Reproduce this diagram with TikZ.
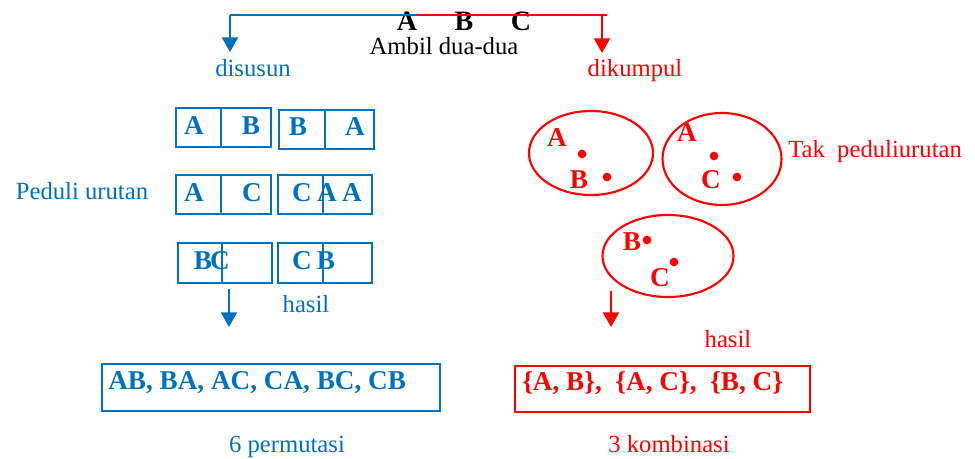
\documentclass[tikz,border=0pt]{standalone}
\usepackage{fontspec}
\setmainfont{Liberation Serif}
\usetikzlibrary{arrows.meta,shapes.geometric}
\definecolor{myblue}{HTML}{0070C0}
\definecolor{myred}{HTML}{FF0000}
\tikzset{
  txt/.style={inner sep=0pt,anchor=base,font=\fontsize{18.5}{21}\selectfont},
  bigl/.style={inner sep=0pt,anchor=base,font=\fontsize{20.4}{24}\selectfont\bfseries},
  topl/.style={inner sep=0pt,anchor=base,font=\fontsize{21}{25}\selectfont\bfseries},
  cell/.style={draw=myblue,line width=1.7pt,rectangle,inner sep=0pt},
  redell/.style={draw=myred,line width=1.6pt,ellipse,inner sep=0pt},
  dotr/.style={circle,fill=myred,inner sep=0pt,minimum size=6.5pt},
  arr/.style={line width=1.6pt,-{Triangle[width=12pt,length=11pt]}},
  resbox/.style={rectangle,line width=1.7pt,inner sep=0pt},
}
\begin{document}
\begin{tikzpicture}[x=0.75pt,y=-0.75pt]
\useasboundingbox (0,0) rectangle (975,459);

% top
\node[topl] (tA) at (407,31) {A};
\node[topl] (tB) at (464,31) {B};
\node[topl] (tC) at (521,31) {C};
\node[txt] (ambil) at (444,55) {Ambil dua-dua};
\coordinate (tmid) at (417,15);
\coordinate (tleft) at (230,15);
\coordinate (tright) at (607,15);
\coordinate (tdrop) at (602,15);
\coordinate (ltip) at (230,52);
\coordinate (rtip) at (602,53);
\draw[myblue,line width=1.6pt] (tmid) -- (tleft);
\draw[myblue,arr] (tleft) -- (ltip);
\draw[myred,line width=1.6pt] (tmid) -- (tright);
\draw[myred,arr] (tdrop) -- (rtip);
\node[txt,text=myblue] (disusun) at (253,77) {disusun};
\node[txt,text=myred] (dikumpul) at (635,77) {dikumpul};

% blue boxes
\foreach \n/\xa/\xd/\xb/\ya/\yb in {r1a/176/221/271/108/147, r1b/279/325/374/110/149, r2a/176/221/271/175/214, r2b/278/323/372/175/214, r3a/178/222/272/243/283, r3b/278/323/372/243/283}{
  \node[cell,minimum width={(\xd-\xa)*0.75pt},minimum height={(\yb-\ya)*0.75pt}] (\n1) at ({(\xa+\xd)/2},{(\ya+\yb)/2}) {};
  \node[cell,minimum width={(\xb-\xd)*0.75pt},minimum height={(\yb-\ya)*0.75pt}] (\n2) at ({(\xd+\xb)/2},{(\ya+\yb)/2}) {};
}
\begin{scope}[every node/.style={bigl,text=myblue}]
\node (l1) at (194,135) {A};
\node (l2) at (251,135) {B};
\node (l3) at (298,136) {B};
\node (l4) at (355,136) {A};
\node (l5) at (194,202) {A};
\node (l6) at (252,202) {C};
\node (l7) at (302,202) {C};
\node (l8) at (327,202) {A};
\node (l9) at (352,202) {A};
\node (l10) at (203,270) {B};
\node (l11) at (220,270) {C};
\node (l12) at (302,270) {C};
\node (l13) at (326,270) {B};
\end{scope}
\node[txt,text=myblue] (peduli) at (82,200) {Peduli urutan};
\coordinate (bstart) at (229,289);
\coordinate (btip) at (229,327);
\draw[myblue,arr] (bstart) -- (btip);
\node[txt,text=myblue] (hasilb) at (306,313) {hasil};
\node[resbox,draw=myblue,minimum width={338*0.75pt},minimum height={47*0.75pt}] (resb) at (271,387.5) {};
\node[bigl,text=myblue,anchor=base west] (resbt) at (108,390) {AB, BA, AC, CA, BC, CB};
\node[txt,text=myblue] (perm) at (287,453) {6 permutasi};

% red ellipses
\node[redell,minimum width={124*0.75pt},minimum height={84*0.75pt}] (e1) at (591,153) {};
\node[redell,minimum width={119*0.75pt},minimum height={92*0.75pt}] (e2) at (722,159) {};
\node[redell,minimum width={131*0.75pt},minimum height={82*0.75pt}] (e3) at (668,256) {};
\begin{scope}[every node/.style={bigl,text=myred}]
\node (e1a) at (557,147) {A};
\node (e1b) at (579,189) {B};
\node (e2a) at (687,142) {A};
\node (e2c) at (711,189) {C};
\node (e3b) at (632,251) {B};
\node (e3c) at (660,287) {C};
\end{scope}
\node[dotr] (d1) at (582,154) {};
\node[dotr] (d2) at (607,177) {};
\node[dotr] (d3) at (714,156) {};
\node[dotr] (d4) at (737,177) {};
\node[dotr] (d5) at (647,240) {};
\node[dotr] (d6) at (674,262) {};
\node[txt,text=myred,anchor=base west] (tak) at (788,158) {Tak~~peduliurutan};
\coordinate (rstart) at (611,291);
\coordinate (rtip2) at (611,327);
\draw[myred,arr] (rstart) -- (rtip2);
\node[txt,text=myred] (hasilr) at (728,348) {hasil};
\node[resbox,draw=myred,minimum width={295*0.75pt},minimum height={46*0.75pt}] (resr) at (662.5,389) {};
\node[bigl,text=myred,anchor=base west] (resrt) at (522,391) {\{A, B\},~~\{A, C\},~~\{B, C\}};
\node[txt,text=myred] (komb) at (669,453) {3 kombinasi};
\end{tikzpicture}
\end{document}
